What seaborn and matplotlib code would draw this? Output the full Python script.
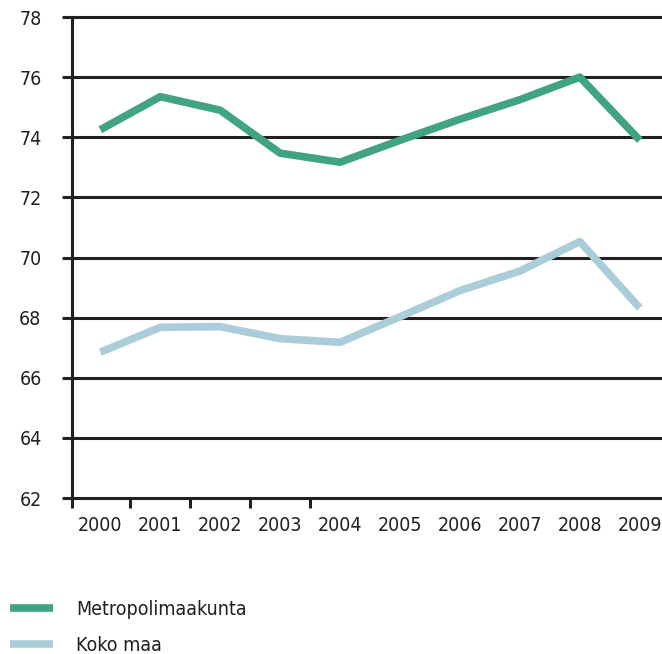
import pandas as pd
import matplotlib
matplotlib.use('Agg')
import matplotlib.pyplot as plt
import seaborn as sns

years = [2000, 2001, 2002, 2003, 2004, 2005, 2006, 2007, 2008, 2009]
metropoli = [74.25, 75.35, 74.9, 73.47, 73.17, 73.9, 74.6, 75.25, 76.0, 73.9]
koko_maa = [66.85, 67.68, 67.7, 67.3, 67.18, 68.03, 68.9, 69.55, 70.53, 68.32]
series_names = ['Metropolimaakunta', 'Koko maa']
y_ticks = [62, 64, 66, 68, 70, 72, 74, 76, 78]

df = pd.DataFrame({
    'vuosi': years * 2,
    'arvo': metropoli + koko_maa,
    'sarja': [series_names[0]] * len(years) + [series_names[1]] * len(years),
})

sns.set_style('white')
plt.rcParams['font.family'] = ['DejaVu Sans']
plt.rcParams['font.stretch'] = 'condensed'
plt.rcParams['font.size'] = 14

ink = '#231f20'
colors = {series_names[0]: '#3fa47f', series_names[1]: '#aacdd9'}

fig = plt.figure(figsize=(6.62, 6.54), dpi=100)
ax = fig.add_axes([0.109, 0.2385, 0.891, 0.7355])

sns.lineplot(data=df, x='vuosi', y='arvo', hue='sarja', palette=colors,
             linewidth=5.5, legend=False, ax=ax, solid_capstyle='butt')

ax.set_ylim(62, 78)
ax.set_xlim(1999.53, 2009.37)
ax.set_yticks(y_ticks)
ax.set_yticklabels([str(v) for v in y_ticks], color=ink)
ax.yaxis.grid(True, color=ink, linewidth=2.2)
for gl in ax.get_ygridlines():
    gl.set_clip_on(False)
ax.set_axisbelow(True)

ax.set_xticks(years)
ax.set_xticklabels([str(y) for y in years], color=ink)
ax.set_xticks([1999.53, 2000.5, 2001.5, 2002.5, 2003.5], minor=True)
ax.tick_params(axis='x', which='major', bottom=True, length=0, pad=13)
ax.tick_params(axis='x', which='minor', bottom=True, length=7, width=2.2, color=ink, direction='out')
ax.tick_params(axis='y', left=True, length=7, width=2.2, color=ink, pad=15, direction='out')
ax.set_xlabel('')
ax.set_ylabel('')

for s in ['top', 'right', 'bottom']:
    ax.spines[s].set_visible(False)
ax.spines['left'].set_color(ink)
ax.spines['left'].set_linewidth(2.2)

handles = [plt.Line2D([], [], color=colors[n], linewidth=5.5, solid_capstyle='butt') for n in series_names]
fig.legend(handles, series_names, loc='upper left', bbox_to_anchor=(0.015, 0.083), frameon=False,
           handlelength=2.2, handletextpad=1.2, labelspacing=0.9, borderpad=0, borderaxespad=0,
           prop={'size': 14}, labelcolor=ink)

fig.savefig('out.png', dpi=100)
